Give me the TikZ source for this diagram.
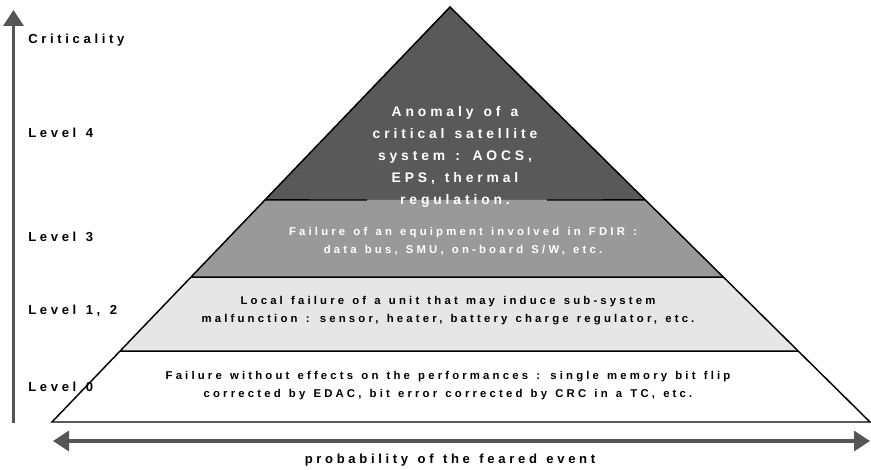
\documentclass[tikz,border=0pt]{standalone}
\usepackage{fontspec}
\setmainfont{Liberation Sans}
\newfontfamily\spacedfont[LetterSpace=28,WordSpace=1.3]{Liberation Sans}
\usetikzlibrary{arrows.meta,calc}
\definecolor{lvlfour}{HTML}{595959}
\definecolor{lvlthree}{HTML}{999999}
\definecolor{lvltwo}{HTML}{E6E6E6}
\definecolor{axisgray}{HTML}{555555}

\begin{document}
\begin{tikzpicture}[x=0.75pt,y=-0.75pt,
  band/.style={draw=black,line width=1.1pt},
  txt/.style={font=\spacedfont\bfseries\fontsize{8.5}{13.5}\selectfont,
              align=center,inner sep=1pt},
  lbl/.style={font=\spacedfont\bfseries\fontsize{9.8}{11}\selectfont,
              anchor=west,inner sep=0pt},
  axis/.style={draw=axisgray,line width=2.4pt},
  >={Triangle[length=12pt,width=15pt]}]
  \useasboundingbox (0,0) rectangle (871,470);
  % pyramid corners and band edges
  \coordinate (apex) at (450,7);
  \coordinate (bl) at (52,422);
  \coordinate (br) at (870,422);
  \foreach \f/\n in {0.465/a,0.651/b,0.829/c}{
    \coordinate (l\n) at ($(apex)!\f!(bl)$);
    \coordinate (r\n) at ($(apex)!\f!(br)$);
  }
  \coordinate (gapl) at (367,200);
  \coordinate (gapr) at (547,200);
  \fill[lvlfour] (apex) -- (ra) -- (la) -- cycle;
  \fill[lvlthree] (la) -- (ra) -- (rb) -- (lb) -- cycle;
  \fill[lvltwo] (lb) -- (rb) -- (rc) -- (lc) -- cycle;
  \draw[band] (apex) -- (bl) -- (br) -- cycle;
  \draw[band] (la) -- (gapl) (gapr) -- (ra) (lb) -- (rb) (lc) -- (rc);
  % band texts
  \node[txt,white,font=\spacedfont\bfseries\fontsize{10.4}{16.5}\selectfont]
    (four) at (455,157)
    {Anomaly of a\\critical satellite\\system : AOCS,\\EPS, thermal\\regulation.};
  \node[txt,white] (three) at (463,241)
    {Failure of an equipment involved in FDIR :\\data bus, SMU, on-board S/W, etc.};
  \node[txt] (two) at (448,311)
    {Local failure of a unit that may induce sub-system\\malfunction : sensor, heater, battery charge regulator, etc.};
  \node[txt] (zero) at (448,386)
    {Failure without effects on the performances : single memory bit flip\\corrected by EDAC, bit error corrected by CRC in a TC, etc.};
  % level labels
  \node[lbl] (crit) at (28,40) {Criticality};
  \node[lbl] (lfour) at (28,133) {Level 4};
  \node[lbl] (lthree) at (28,237) {Level 3};
  \node[lbl] (ltwo) at (28,311) {Level 1, 2};
  \node[lbl] (lzero) at (28,387) {Level 0};
  % axes
  \coordinate (vbot) at (13.5,423);
  \coordinate (vtop) at (13.5,10);
  \coordinate (hleft) at (53,441);
  \coordinate (hright) at (870,441);
  \draw[axis,->] (vbot) -- (vtop);
  \draw[axis,<->] (hleft) -- (hright);
  \node[lbl,anchor=center] (prob) at (450,460) {probability of the feared event};
\end{tikzpicture}
\end{document}
